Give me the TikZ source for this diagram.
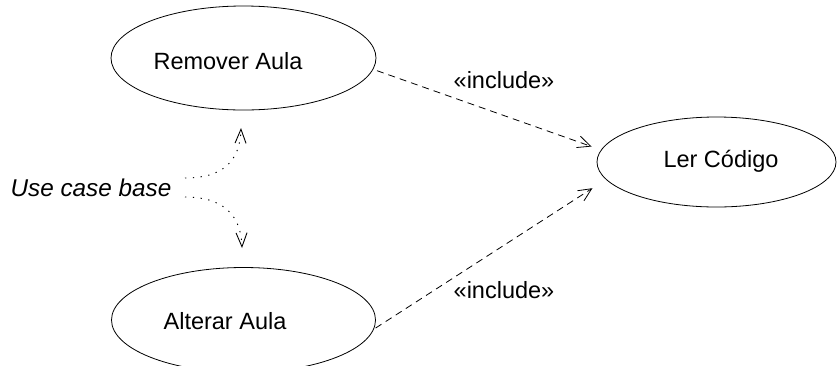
\documentclass[tikz,border=0pt]{standalone}
\usepackage{fontspec}
\setmainfont{Liberation Sans}
\usetikzlibrary{shapes.geometric,arrows.meta}
\begin{document}
\begin{tikzpicture}[x=1pt,y=-1pt,
  usecase/.style={draw, ellipse, inner sep=0pt, line width=0.8pt},
  lbl/.style={font=\fontsize{23.5}{28}\selectfont, inner sep=0pt, anchor=base},
  incl/.style={draw, line width=0.8pt, dash pattern=on 7pt off 5pt,
    -{Straight Barb[length=13pt,width=12pt]}},
  note/.style={draw, line width=0.9pt, dash pattern=on 1.3pt off 6.5pt,
    -{Straight Barb[length=14pt,width=11pt]}}]
\useasboundingbox (0,0) rectangle (837,365);

% use cases
\node[usecase, minimum width=265pt, minimum height=104pt] (rem) at (243.5,58) {};
\node[usecase, minimum width=264pt, minimum height=105pt] (alt) at (243.5,320) {};
\node[usecase, minimum width=239pt, minimum height=90pt] (ler) at (716.5,162) {};

\node[lbl] (remtxt) at (228,69) {Remover Aula};
\node[lbl] (alttxt) at (225,329) {Alterar Aula};
\node[lbl] (lertxt) at (721,167) {Ler Código};

% include relations
\draw[incl, shorten <=4pt, shorten >=10pt] (rem.-5) -- (ler.174);
\draw[incl, shorten <=2pt, shorten >=16pt] (alt.-4) -- (ler.189);
\node[lbl] (inc1) at (504,88) {«include»};
\node[lbl] (inc2) at (504,298) {«include»};

% annotation
\node[lbl, font=\fontsize{24.3}{28}\selectfont\itshape] (ucb) at (91,196) {Use case base};
\coordinate (ucbA) at (185,178);
\coordinate (ucbB) at (185,197);
\coordinate (tipA) at (241,128);
\coordinate (tipB) at (242,248);
\draw[note] (ucbA) .. controls (222,178) and (240,162) .. (tipA);
\draw[note] (ucbB) .. controls (222,197) and (241,214) .. (tipB);
\end{tikzpicture}
\end{document}
